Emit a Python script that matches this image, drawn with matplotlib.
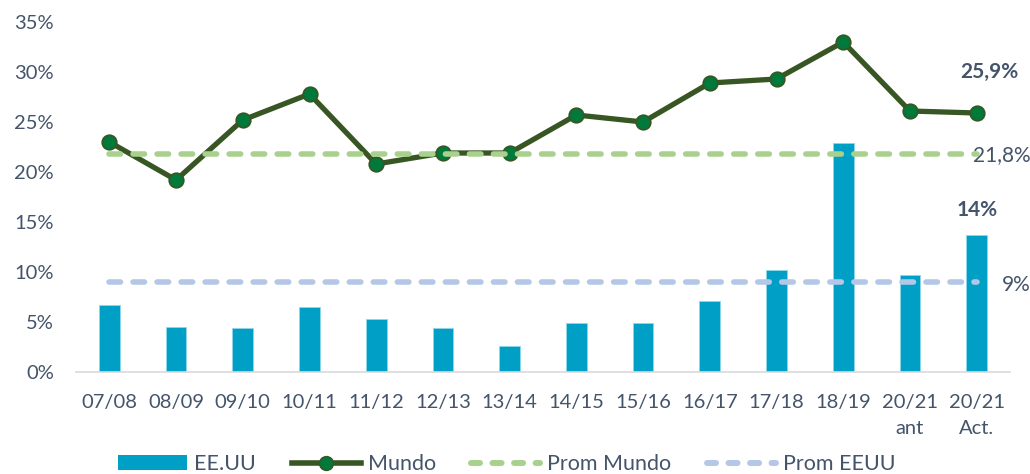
import matplotlib
matplotlib.use("Agg")
import matplotlib.pyplot as plt
from matplotlib.lines import Line2D
from matplotlib.patches import Patch

plt.rcParams['font.family'] = ['Lato', 'DejaVu Sans']
plt.rcParams['lines.scale_dashes'] = False

categories = ["07/08", "08/09", "09/10", "10/11", "11/12", "12/13", "13/14",
              "14/15", "15/16", "16/17", "17/18", "18/19", "20/21\nant", "20/21\nAct."]
eeuu = [6.7, 4.5, 4.4, 6.5, 5.3, 4.4, 2.6, 4.9, 4.9, 7.1, 10.2, 22.9, 9.7, 13.7]
mundo = [23.0, 19.2, 25.2, 27.8, 20.8, 21.9, 21.9, 25.7, 25.0, 28.9, 29.3, 33.0, 26.1, 25.9]
prom_mundo = 21.8
prom_eeuu = 9.0
yticks = [0, 5, 10, 15, 20, 25, 30, 35]

TXT = '#44546A'
BAR = '#00A0C6'
LINE = '#375623'
MFACE = '#00793A'
PM = '#A9D18E'
PE = '#B4C7E7'

fig = plt.figure(figsize=(10.30, 4.74), dpi=100)
ax = fig.add_axes([76/1030, 1-372/474, (1010-76)/1030, 350/474])

x = list(range(len(categories)))
ax.bar(x, eeuu, width=0.31, color=BAR, edgecolor='#8FD6E8', linewidth=0.6, zorder=2)
ax.plot(x, mundo, color=LINE, lw=3.8, marker='o', markersize=10.5,
        markerfacecolor=MFACE, markeredgecolor=LINE, markeredgewidth=1.2, zorder=3)
dash = (0, (8.3, 9.0))
ax.plot([x[0], x[-1]], [prom_mundo, prom_mundo], color=PM, lw=4.0, ls=dash,
        dash_capstyle='round', zorder=4)
ax.plot([x[0], x[-1]], [prom_eeuu, prom_eeuu], color=PE, lw=4.0, ls=dash,
        dash_capstyle='round', zorder=4)

ax.set_xlim(-0.5, len(categories) - 0.5)
ax.set_ylim(0, 35)
ax.set_yticks(yticks)
ax.set_yticklabels([f"{v}%" for v in yticks])
ax.set_xticks(x)
ax.set_xticklabels(categories, linespacing=1.6)
ax.tick_params(axis='both', length=0, labelsize=14.5, labelcolor=TXT)
ax.tick_params(axis='x', pad=16)
ax.tick_params(axis='y', pad=16)
for s in ['top', 'right', 'left']:
    ax.spines[s].set_visible(False)
ax.spines['bottom'].set_color('#D9D9D9')
ax.spines['bottom'].set_linewidth(1.2)

last = len(categories) - 1
ax.annotate("25,9%", (last, mundo[-1]), xytext=(13, 41), textcoords='offset pixels',
            ha='center', va='center', fontsize=15, fontweight='bold', color=TXT)
ax.annotate("21,8%", (last, prom_mundo), xytext=(-4, -1), textcoords='offset pixels',
            ha='left', va='center', fontsize=15, color=TXT, annotation_clip=False)
ax.annotate("9%", (last, prom_eeuu), xytext=(25, -3), textcoords='offset pixels',
            ha='left', va='center', fontsize=15, color=TXT, annotation_clip=False)
ax.annotate("14%", (last, eeuu[-1]), xytext=(0, 25), textcoords='offset pixels',
            ha='center', va='center', fontsize=15, fontweight='bold', color=TXT)

ldash = (0, (6.5, 9.0))
handles = [
    Patch(facecolor=BAR, edgecolor='none'),
    Line2D([0], [0], color=LINE, lw=4.0, marker='o', markersize=10,
           markerfacecolor=MFACE, markeredgecolor=LINE),
    Line2D([0], [0], color=PM, lw=4.3, ls=ldash, dash_capstyle='round'),
    Line2D([0], [0], color=PE, lw=4.3, ls=ldash, dash_capstyle='round'),
]
labels = ["EE.UU", "Mundo", "Prom Mundo", "Prom EEUU"]
leg = fig.legend(handles, labels, loc='center', bbox_to_anchor=(507/1030, 1-464/474),
                 ncol=4, frameon=False, fontsize=15.5, handlelength=3.2,
                 handleheight=0.65, handletextpad=0.33, columnspacing=1.65, borderpad=0)
for t in leg.get_texts():
    t.set_color(TXT)

fig.savefig("out.png", dpi=100)
